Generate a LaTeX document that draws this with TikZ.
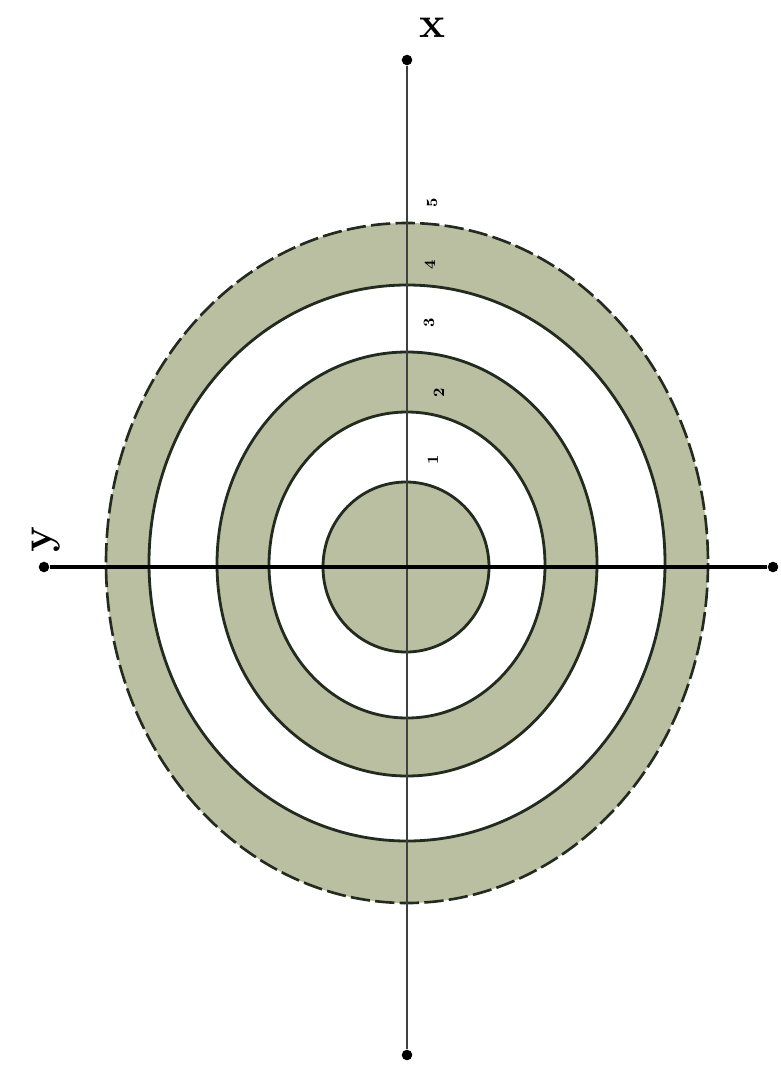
\documentclass[tikz,border=0pt]{standalone}
\usepackage{tikz}
\usetikzlibrary{positioning}
\definecolor{ringfill}{RGB}{186,191,162}
\definecolor{ringline}{RGB}{35,42,30}

\begin{document}
\begin{tikzpicture}[x=0.02cm,y=-0.02cm]
\tikzset{dot/.style={circle,fill=black,inner sep=0pt,minimum size=6pt},
  ring/.style={draw=ringline,line width=1.6pt},
  tick/.style={font=\bfseries\small,rotate=90,inner sep=0pt}}
\useasboundingbox (0,0) rectangle (781,1079);
% bands, outside in
\fill[ringfill] (407,563) ellipse [x radius=301,y radius=340];
\draw[ringline,line width=1.5pt,dash pattern=on 11pt off 3pt] (407,563) ellipse [x radius=301,y radius=340];
\filldraw[ring,fill=white] (407,563) ellipse [x radius=258,y radius=278];
\filldraw[ring,fill=ringfill] (407,564) ellipse [x radius=190,y radius=212];
\filldraw[ring,fill=white] (407,565) ellipse [x radius=138,y radius=153];
\filldraw[ring,fill=ringfill] (406,567) ellipse [x radius=83,y radius=85];
% axes
\node[dot] (xtop) at (407,60) {};
\node[dot] (xbot) at (407,1055) {};
\node[dot] (yleft) at (44,567) {};
\node[dot] (yright) at (773,567) {};
\draw[line width=1pt,black!75] (xtop) -- (xbot);
\draw[line width=2.2pt] (yleft) -- (yright);
\node[font=\Huge\bfseries] (xlab) at (432,28) {x};
\node[font=\Huge\bfseries,rotate=90] (ylab) at (46,540) {y};
% radii
\node[tick] (t5) at (432,203) {5};
\node[tick] (t4) at (430,265) {4};
\node[tick] (t3) at (429,323) {3};
\node[tick] (t2) at (439,393) {2};
\node[tick] (t1) at (433,460) {1};
\end{tikzpicture}
\end{document}
